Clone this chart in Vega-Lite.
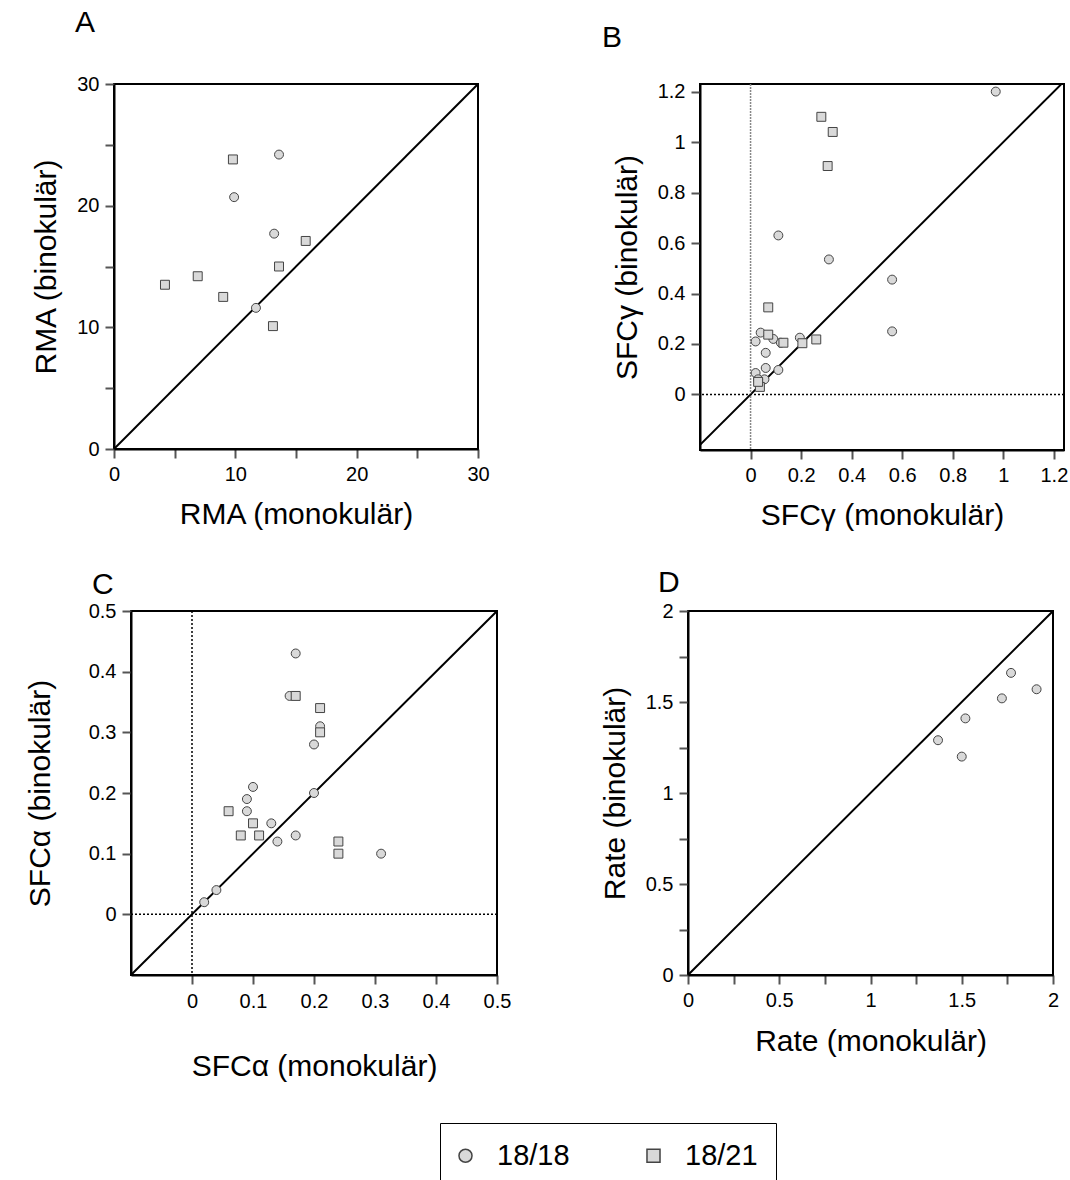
{
  "$schema": "https://vega.github.io/schema/vega-lite/v6.json",
  "background": "white",
  "padding": {"left": 23, "top": 7, "right": 0, "bottom": 0},
  "config": {
    "font": "Liberation Sans",
    "view": {"stroke": "black", "strokeWidth": 2},
    "axis": {"grid": false, "domainColor": "black", "domainWidth": 2, "tickColor": "#555", "tickWidth": 2, "tickSize": 9, "labelFontSize": 20, "labelColor": "black", "labelPadding": 6, "titleFontSize": 30, "titleFontWeight": "normal", "titleColor": "black", "titlePadding": 15, "labelFlush": false, "labelOverlap": false},
    "title": {"fontSize": 30, "fontWeight": "normal", "anchor": "start", "frame": "group", "color": "black"},
    "legend": {"orient": "none", "legendX": 417, "legendY": 1039}
  },
  "datasets": {
    "A": [
      {"mono": 13.6, "bino": 24.2, "group": "18/18"},
      {"mono": 9.9, "bino": 20.7, "group": "18/18"},
      {"mono": 13.2, "bino": 17.7, "group": "18/18"},
      {"mono": 11.7, "bino": 11.6, "group": "18/18"},
      {"mono": 9.8, "bino": 23.8, "group": "18/21"},
      {"mono": 15.8, "bino": 17.1, "group": "18/21"},
      {"mono": 13.6, "bino": 15.0, "group": "18/21"},
      {"mono": 6.9, "bino": 14.2, "group": "18/21"},
      {"mono": 4.2, "bino": 13.5, "group": "18/21"},
      {"mono": 9.0, "bino": 12.5, "group": "18/21"},
      {"mono": 13.1, "bino": 10.1, "group": "18/21"}
    ],
    "B": [
      {"mono": 0.97, "bino": 1.2, "group": "18/18"},
      {"mono": 0.11, "bino": 0.63, "group": "18/18"},
      {"mono": 0.31, "bino": 0.535, "group": "18/18"},
      {"mono": 0.56, "bino": 0.455, "group": "18/18"},
      {"mono": 0.56, "bino": 0.25, "group": "18/18"},
      {"mono": 0.04, "bino": 0.245, "group": "18/18"},
      {"mono": 0.02, "bino": 0.21, "group": "18/18"},
      {"mono": 0.09, "bino": 0.22, "group": "18/18"},
      {"mono": 0.12, "bino": 0.205, "group": "18/18"},
      {"mono": 0.195, "bino": 0.225, "group": "18/18"},
      {"mono": 0.06, "bino": 0.165, "group": "18/18"},
      {"mono": 0.06, "bino": 0.105, "group": "18/18"},
      {"mono": 0.11, "bino": 0.097, "group": "18/18"},
      {"mono": 0.02, "bino": 0.085, "group": "18/18"},
      {"mono": 0.055, "bino": 0.06, "group": "18/18"},
      {"mono": 0.03, "bino": 0.06, "group": "18/18"},
      {"mono": 0.28, "bino": 1.1, "group": "18/21"},
      {"mono": 0.325, "bino": 1.04, "group": "18/21"},
      {"mono": 0.305, "bino": 0.905, "group": "18/21"},
      {"mono": 0.07, "bino": 0.345, "group": "18/21"},
      {"mono": 0.07, "bino": 0.237, "group": "18/21"},
      {"mono": 0.13, "bino": 0.205, "group": "18/21"},
      {"mono": 0.205, "bino": 0.203, "group": "18/21"},
      {"mono": 0.26, "bino": 0.218, "group": "18/21"},
      {"mono": 0.037, "bino": 0.03, "group": "18/21"},
      {"mono": 0.03, "bino": 0.05, "group": "18/21"}
    ],
    "C": [
      {"mono": 0.17, "bino": 0.43, "group": "18/18"},
      {"mono": 0.16, "bino": 0.36, "group": "18/18"},
      {"mono": 0.21, "bino": 0.31, "group": "18/18"},
      {"mono": 0.2, "bino": 0.28, "group": "18/18"},
      {"mono": 0.1, "bino": 0.21, "group": "18/18"},
      {"mono": 0.2, "bino": 0.2, "group": "18/18"},
      {"mono": 0.09, "bino": 0.19, "group": "18/18"},
      {"mono": 0.09, "bino": 0.17, "group": "18/18"},
      {"mono": 0.13, "bino": 0.15, "group": "18/18"},
      {"mono": 0.17, "bino": 0.13, "group": "18/18"},
      {"mono": 0.14, "bino": 0.12, "group": "18/18"},
      {"mono": 0.31, "bino": 0.1, "group": "18/18"},
      {"mono": 0.02, "bino": 0.02, "group": "18/18"},
      {"mono": 0.04, "bino": 0.04, "group": "18/18"},
      {"mono": 0.17, "bino": 0.36, "group": "18/21"},
      {"mono": 0.21, "bino": 0.34, "group": "18/21"},
      {"mono": 0.21, "bino": 0.3, "group": "18/21"},
      {"mono": 0.06, "bino": 0.17, "group": "18/21"},
      {"mono": 0.1, "bino": 0.15, "group": "18/21"},
      {"mono": 0.08, "bino": 0.13, "group": "18/21"},
      {"mono": 0.11, "bino": 0.13, "group": "18/21"},
      {"mono": 0.24, "bino": 0.12, "group": "18/21"},
      {"mono": 0.24, "bino": 0.1, "group": "18/21"}
    ],
    "D": [
      {"mono": 1.77, "bino": 1.66, "group": "18/18"},
      {"mono": 1.91, "bino": 1.57, "group": "18/18"},
      {"mono": 1.72, "bino": 1.52, "group": "18/18"},
      {"mono": 1.52, "bino": 1.41, "group": "18/18"},
      {"mono": 1.37, "bino": 1.29, "group": "18/18"},
      {"mono": 1.5, "bino": 1.2, "group": "18/18"}
    ]
  },
  "spacing": 36,
  "vconcat": [
    {
      "spacing": 110,
      "hconcat": [
        {
          "spacing": 0,
          "hconcat": [
            {"width": 7, "height": 1, "data": {"values": []}, "mark": {"type": "point"}, "encoding": {}, "view": {"stroke": null}},
            {
              "width": 364, "height": 365,
              "title": {"text": "A", "dx": -39, "offset": 36},
              "layer": [
                {
                  "data": {"values": [{"v": 0}, {"v": 30}]},
                  "mark": {"type": "line", "color": "black", "strokeWidth": 2, "clip": true},
                  "encoding": {
                    "x": {"field": "v", "type": "quantitative", "scale": {"domain": [0, 30], "nice": false}, "axis": {"title": "RMA (monokulär)", "values": [0, 5, 10, 15, 20, 25, 30], "labelExpr": "datum.value % 10 == 0 ? datum.label : ''"}},
                    "y": {"field": "v", "type": "quantitative", "scale": {"domain": [0, 30], "nice": false}, "axis": {"title": "RMA (binokulär)", "values": [0, 5, 10, 15, 20, 25, 30], "labelExpr": "datum.value % 10 == 0 ? datum.label : ''"}}
                  }
                },
                {
                  "data": {"name": "A"},
                  "mark": {"type": "point", "filled": true, "fill": "#d9d9d9", "stroke": "#444", "strokeWidth": 1, "opacity": 1, "size": 80},
                  "encoding": {
                    "x": {"field": "mono", "type": "quantitative"},
                    "y": {"field": "bino", "type": "quantitative"},
                    "shape": {"field": "group", "type": "nominal", "scale": {"domain": ["18/18", "18/21"], "range": ["circle", "square"]},
                      "legend": {"title": null, "direction": "horizontal", "symbolSize": 170, "symbolOffset": -7, "labelFontSize": 29, "labelColor": "black", "labelOffset": 17, "columnPadding": 73, "padding": 18, "strokeColor": "black",
                        "encode": {
                          "legend": {"update": {"strokeWidth": {"value": 2}}},
                          "symbols": {"update": {"fill": {"value": "#d9d9d9"}, "stroke": {"value": "#444"}, "strokeWidth": {"value": 1}, "size": {"value": 170}, "opacity": {"value": 1}}}
                        }}}
                  }
                }
              ]
            }
          ]
        },
        {
          "width": 364, "height": 366,
          "title": {"text": "B", "dx": -98, "offset": 29},
          "layer": [
            {
              "data": {"values": [{"v": -0.22}, {"v": 1.24}]},
              "mark": {"type": "line", "color": "black", "strokeWidth": 2, "clip": true},
              "encoding": {
                "x": {"field": "v", "type": "quantitative", "scale": {"domain": [-0.2, 1.24], "nice": false, "zero": false}, "axis": {"title": "SFCγ (monokulär)", "values": [0, 0.2, 0.4, 0.6, 0.8, 1, 1.2], "format": "~g"}},
                "y": {"field": "v", "type": "quantitative", "scale": {"domain": [-0.22, 1.23], "nice": false, "zero": false}, "axis": {"title": "SFCγ (binokulär)", "values": [0, 0.2, 0.4, 0.6, 0.8, 1, 1.2], "format": "~g"}}
              }
            },
            {
              "data": {"values": [{}]},
              "mark": {"type": "rule", "color": "#888", "strokeWidth": 1.5, "strokeDash": [2, 1]},
              "encoding": {"x": {"datum": 0, "type": "quantitative"}}
            },
            {
              "data": {"values": [{}]},
              "mark": {"type": "rule", "color": "black", "strokeWidth": 1.5, "strokeDash": [2, 2]},
              "encoding": {"y": {"datum": 0, "type": "quantitative"}}
            },
            {
              "data": {"name": "B"},
              "mark": {"type": "point", "filled": true, "fill": "#d9d9d9", "stroke": "#444", "strokeWidth": 1, "opacity": 1, "size": 80},
              "encoding": {
                "x": {"field": "mono", "type": "quantitative"},
                "y": {"field": "bino", "type": "quantitative"},
                "shape": {"field": "group", "type": "nominal"}
              }
            }
          ]
        }
      ]
    },
    {
      "spacing": 87,
      "hconcat": [
        {
          "spacing": 0,
          "hconcat": [
            {"width": 1, "height": 1, "data": {"values": []}, "mark": {"type": "point"}, "encoding": {}, "view": {"stroke": null}},
            {
              "width": 366, "height": 364,
              "title": {"text": "C", "dx": -39, "offset": 1},
              "layer": [
                {
                  "data": {"values": [{"v": -0.1}, {"v": 0.5}]},
                  "mark": {"type": "line", "color": "black", "strokeWidth": 2, "clip": true},
                  "encoding": {
                    "x": {"field": "v", "type": "quantitative", "scale": {"domain": [-0.1, 0.5], "nice": false, "zero": false}, "axis": {"title": "SFCα (monokulär)", "values": [0, 0.05, 0.1, 0.15, 0.2, 0.25, 0.3, 0.35, 0.4, 0.45, 0.5], "labelExpr": "round(datum.value * 100) % 10 == 0 ? format(datum.value, '~g') : ''", "labelPadding": 7, "titlePadding": 40}},
                    "y": {"field": "v", "type": "quantitative", "scale": {"domain": [-0.1, 0.5], "nice": false, "zero": false}, "axis": {"title": "SFCα (binokulär)", "values": [0, 0.05, 0.1, 0.15, 0.2, 0.25, 0.3, 0.35, 0.4, 0.45, 0.5], "labelExpr": "round(datum.value * 100) % 10 == 0 ? format(datum.value, '~g') : ''", "titlePadding": 33}}
                  }
                },
                {
                  "data": {"values": [{}]},
                  "mark": {"type": "rule", "color": "black", "strokeWidth": 1.5, "strokeDash": [2, 2]},
                  "encoding": {"x": {"datum": 0, "type": "quantitative"}}
                },
                {
                  "data": {"values": [{}]},
                  "mark": {"type": "rule", "color": "black", "strokeWidth": 1.5, "strokeDash": [2, 2]},
                  "encoding": {"y": {"datum": 0, "type": "quantitative"}}
                },
                {
                  "data": {"name": "C"},
                  "mark": {"type": "point", "filled": true, "fill": "#d9d9d9", "stroke": "#444", "strokeWidth": 1, "opacity": 1, "size": 80},
                  "encoding": {
                    "x": {"field": "mono", "type": "quantitative"},
                    "y": {"field": "bino", "type": "quantitative"},
                    "shape": {"field": "group", "type": "nominal"}
                  }
                }
              ]
            }
          ]
        },
        {
          "width": 365, "height": 364,
          "title": {"text": "D", "dx": -30, "offset": 3},
          "layer": [
            {
              "data": {"values": [{"v": 0}, {"v": 2}]},
              "mark": {"type": "line", "color": "black", "strokeWidth": 2, "clip": true},
              "encoding": {
                "x": {"field": "v", "type": "quantitative", "scale": {"domain": [0, 2], "nice": false}, "axis": {"title": "Rate (monokulär)", "values": [0, 0.25, 0.5, 0.75, 1, 1.25, 1.5, 1.75, 2], "labelExpr": "round(datum.value * 100) % 50 == 0 ? format(datum.value, '~g') : ''", "titlePadding": 16}},
                "y": {"field": "v", "type": "quantitative", "scale": {"domain": [0, 2], "nice": false}, "axis": {"title": "Rate (binokulär)", "values": [0, 0.25, 0.5, 0.75, 1, 1.25, 1.5, 1.75, 2], "labelExpr": "round(datum.value * 100) % 50 == 0 ? format(datum.value, '~g') : ''"}}
              }
            },
            {
              "data": {"name": "D"},
              "mark": {"type": "point", "filled": true, "fill": "#d9d9d9", "stroke": "#444", "strokeWidth": 1, "opacity": 1, "size": 80},
              "encoding": {
                "x": {"field": "mono", "type": "quantitative"},
                "y": {"field": "bino", "type": "quantitative"},
                "shape": {"field": "group", "type": "nominal"}
              }
            }
          ]
        }
      ]
    }
  ]
}
